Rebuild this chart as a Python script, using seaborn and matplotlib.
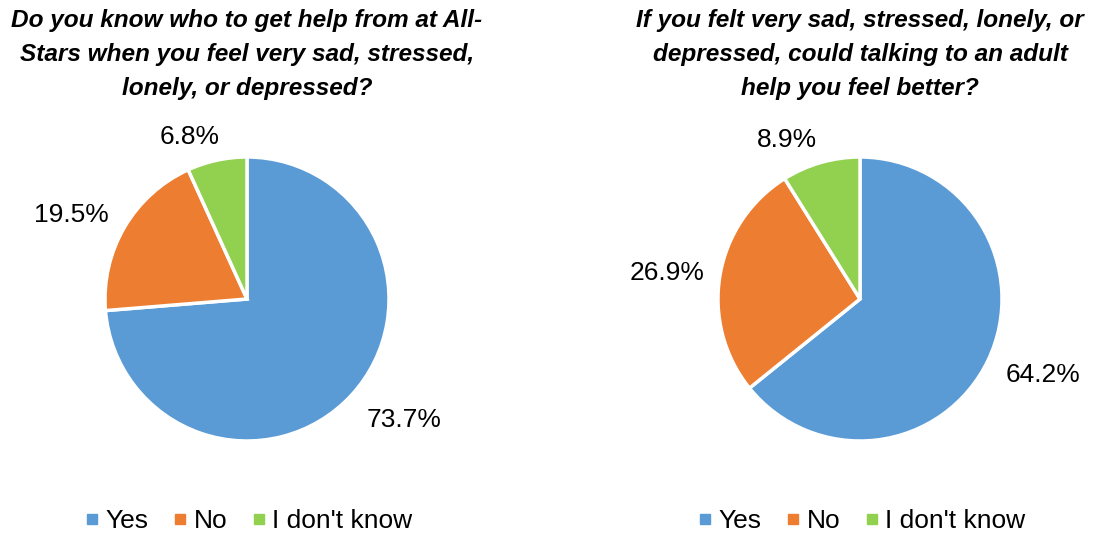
import matplotlib
matplotlib.use("Agg")
import matplotlib.pyplot as plt
from matplotlib.lines import Line2D
import seaborn as sns

# data
categories = ["Yes", "No", "I don't know"]
q1_values = [73.7, 19.5, 6.8]
q2_values = [64.2, 26.9, 8.9]
q1_title = "Do you know who to get help from at All-\nStars when you feel very sad, stressed,\nlonely, or depressed?"
q2_title = "If you felt very sad, stressed, lonely, or\ndepressed, could talking to an adult\nhelp you feel better?"

sns.set_theme(style="white")
plt.rcParams['font.family'] = ['Liberation Sans', 'DejaVu Sans']
plt.rcParams['text.color'] = 'black'

colors = sns.color_palette(["#5B9BD5", "#ED7D31", "#92D050"])

W, H = 1093, 533
fig = plt.figure(figsize=(W / 100, H / 100), dpi=100)

R = 142  # pie radius in px
half = 1.6


def draw_pie(cx, cy, values, title, label_pos):
    side = 2 * half * R
    ax = fig.add_axes([(cx - side / 2) / W, (H - cy - side / 2) / H, side / W, side / H])
    ax.pie(values, colors=colors, startangle=90, counterclock=False,
           wedgeprops=dict(edgecolor="white", linewidth=2.5))
    for v, (dx, dy) in zip(values, label_pos):
        ax.text(dx / R, -dy / R, f"{v:.1f}%", ha="center", va="center",
                fontsize=19, color="black")
    ax.set_xlim(-half, half)
    ax.set_ylim(-half, half)
    ax.set_aspect("equal")
    ax.axis("off")

    fig.text(cx / W, 1 - 9 / H, title, ha="center", va="top", fontsize=17.6,
             fontweight="bold", fontstyle="italic", linespacing=1.62, color="black")

    handles = [Line2D([0], [0], marker="s", linestyle="", markersize=7,
                      markerfacecolor=c, markeredgecolor=c) for c in colors]
    fig.legend(handles, categories, loc="center", bbox_to_anchor=(cx / W, 1 - 521 / H),
               ncol=3, frameon=False, fontsize=19, handletextpad=0.1,
               columnspacing=0.8, handlelength=0.8)


# label offsets from pie centre (px, screen coords)
draw_pie(247, 299, q1_values, q1_title, [(157, 121), (-176, -84), (-57, -162)])
draw_pie(860, 299, q2_values, q2_title, [(183, 76), (-193, -26), (-73, -159)])

fig.savefig("out.png", dpi=100)
